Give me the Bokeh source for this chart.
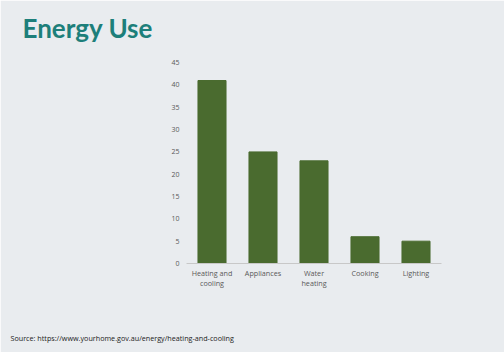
from bokeh.plotting import figure
from bokeh.models import Range1d, FactorRange, Title, FixedTicker, ColumnDataSource
from bokeh.embed import file_html
from bokeh.resources import INLINE

categories = ["Heating and\ncooling", "Appliances", "Water\nheating", "Cooking", "Lighting"]
values = [41, 25, 23, 6, 5]
y_ticks = [0, 5, 10, 15, 20, 25, 30, 35, 40, 45]

BG = "#e9ecef"
BAR = "#4a6b2f"

p = figure(width=504, height=352, output_backend="svg", toolbar_location=None,
           x_range=FactorRange(*categories, range_padding=0), y_range=Range1d(0, 47.05),
           min_border_left=186, min_border_right=63, min_border_top=0, min_border_bottom=89)
p.background_fill_color = BG
p.border_fill_color = BG
p.outline_line_color = BG
p.grid.visible = False

src = ColumnDataSource(dict(cat=categories, val=values))
p.vbar(x="cat", top="val", width=0.55, source=src, fill_color=BAR, line_color=BAR)

p.yaxis.ticker = FixedTicker(ticks=y_ticks)
p.yaxis.axis_line_color = None
p.yaxis.major_tick_line_color = None
p.yaxis.minor_tick_line_color = None
p.yaxis.major_tick_out = 0
p.yaxis.major_label_standoff = 7
p.yaxis.major_label_text_font = "Open Sans"
p.yaxis.major_label_text_font_size = "7px"
p.yaxis.major_label_text_color = "#595959"

p.xaxis.axis_line_color = "#c8c8c8"
p.xaxis.major_tick_line_color = None
p.xaxis.minor_tick_line_color = None
p.xaxis.major_tick_out = 0
p.xaxis.major_label_standoff = 4
p.xaxis.major_label_text_font = "Open Sans"
p.xaxis.major_label_text_font_size = "7.2px"
p.xaxis.major_label_text_line_height = 1.0
p.xaxis.major_label_text_color = "#595959"

title = Title(text="Energy Use", align="left", offset=22 - 186, standoff=18.6,
              text_font="Lato", text_font_style="bold", text_font_size="26px",
              text_color="#1d7f7a")
source = Title(text="\n\n\n\nSource: https://www.yourhome.gov.au/energy/heating-and-cooling",
               align="left", offset=10 - 186, standoff=0, text_line_height=1.0,
               text_font="Open Sans", text_font_style="normal", text_font_size="7.2px",
               text_color="#222222")
p.add_layout(title, "above")
p.add_layout(source, "below")

open("out.html", "w").write(file_html(p, INLINE))
